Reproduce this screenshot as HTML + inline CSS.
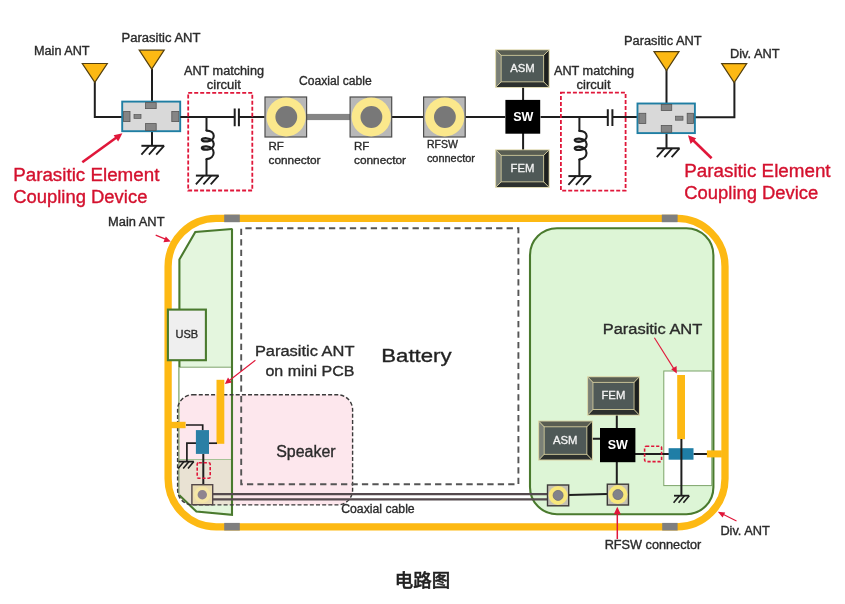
<!DOCTYPE html>
<html lang="zh">
<head>
<meta charset="utf-8">
<title>电路图</title>
<style>
html,body{margin:0;padding:0;background:#fff;}
body{width:845px;height:604px;overflow:hidden;position:relative;font-family:"Liberation Sans","Noto Sans CJK SC",sans-serif;}
svg{position:absolute;left:0;top:0;display:block;will-change:transform;}
svg text{font-family:"Liberation Sans","Noto Sans CJK SC",sans-serif;fill:#2b2b2b;stroke:#2b2b2b;stroke-width:.35px;}
.w{stroke:#1e1e1e;stroke-width:2;fill:none;}
.lbl{font-size:12px;}
.red{fill:#d4112e;stroke:#d4112e !important;stroke-width:.35px !important;}
.caption{position:absolute;left:0;top:568.3px;width:845px;text-align:center;font-size:18.5px;line-height:26px;color:#222;font-weight:500;-webkit-text-stroke:.45px #222;will-change:transform;font-family:"Liberation Sans","Noto Sans CJK SC",sans-serif;}
</style>
</head>
<body>
<svg width="845" height="604" viewBox="0 0 845 604">
<defs>
  <!-- antenna triangle: apex at 0,0 pointing down -->
  <g id="ant">
    <path d="M-12.5,-19.2 L12.5,-19.2 L0,-0.3 Z" fill="#fdb913" stroke="#54400f" stroke-width="1.2" stroke-linejoin="miter"/>
  </g>
  <!-- ground: origin at centre of bar -->
  <g id="gnd">
    <path d="M-11.4,0 H11.4" stroke="#1e1e1e" stroke-width="2" fill="none"/>
    <path d="M-3.6,0 L-11.4,8.8 M3.9,0 L-3.9,8.8 M11.2,0 L3.4,8.8" stroke="#1e1e1e" stroke-width="1.8" fill="none"/>
  </g>
  <g id="gnds">
    <path d="M-7.6,0 H7.6" stroke="#1e1e1e" stroke-width="1.8" fill="none"/>
    <path d="M-2.2,0 L-8,7 M2.8,0 L-3,7 M7.6,0 L1.8,7" stroke="#1e1e1e" stroke-width="1.6" fill="none"/>
  </g>
  <!-- big RF connector centred at 0,0 -->
  <g id="rfc">
    <rect x="-20.8" y="-20" width="41.6" height="40" fill="#b8b8b8" stroke="#4d4d4d" stroke-width="1.2"/>
    <circle cx="0.3" cy="0" r="19.6" fill="#fbe88c"/>
    <circle cx="0.5" cy="0" r="10.9" fill="#787878"/>
  </g>
  <!-- small connector centred at 0,0 -->
  <g id="sc">
    <rect x="-10.6" y="-10.4" width="21.2" height="20.8" fill="#c4c1b4" stroke="#3d3a3a" stroke-width="1.4"/>
    <circle cx="0" cy="0" r="9.5" fill="#f8e87c"/>
    <circle cx="0" cy="0" r="5" fill="#82828a" stroke="#6f6f78" stroke-width=".8"/>
  </g>
  <g id="sc2">
    <rect x="-10.4" y="-10" width="20.8" height="20" fill="#eadcb0" stroke="#54484a" stroke-width="1.4"/>
    <circle cx="0" cy="0" r="8.2" fill="#f6e7a6"/>
    <circle cx="0" cy="0" r="4.7" fill="#8f858f"/>
  </g>
  <!-- chip 55 x 38, origin top-left -->
  <g id="chip">
    <rect x="0" y="0" width="54.4" height="38.4" fill="#d8d1a2"/>
    <path d="M0.9,0.9 L53.5,0.9 L48.2,6.2 L6.2,6.2 Z" fill="#595d52"/>
    <path d="M0.9,0.9 L6.2,6.2 L6.2,32.2 L0.9,37.5 Z" fill="#7b8077"/>
    <path d="M53.5,0.9 L53.5,37.5 L48.2,32.2 L48.2,6.2 Z" fill="#1d201f"/>
    <path d="M0.9,37.5 L6.2,32.2 L48.2,32.2 L53.5,37.5 Z" fill="#2c302e"/>
    <path d="M0.9,0.9 L6.2,6.2 M53.5,0.9 L48.2,6.2 M0.9,37.5 L6.2,32.2 M53.5,37.5 L48.2,32.2" stroke="#d8d1a2" stroke-width=".9" fill="none"/>
    <rect x="5.5" y="5.5" width="43.4" height="27.4" fill="#cfc89a"/>
    <rect x="6.4" y="6.4" width="41.6" height="25.6" fill="#4f5957"/>
  </g>
  <!-- coupling device origin top-left 58 x 30 -->
  <g id="dev">
    <rect x="0" y="0" width="58" height="29.6" fill="#d9d9d9" stroke="#1f7ea3" stroke-width="1.9"/>
    <rect x="1.4" y="9.8" width="6.4" height="10.2" fill="#858585" stroke="#555" stroke-width=".8"/>
    <rect x="49.6" y="9.8" width="7" height="10.2" fill="#858585" stroke="#555" stroke-width=".8"/>
    <rect x="23.4" y="1" width="10.6" height="6" fill="#858585" stroke="#555" stroke-width=".8"/>
    <rect x="23.4" y="22" width="10.6" height="6.8" fill="#858585" stroke="#555" stroke-width=".8"/>
  </g>
  <!-- inductor coil, origin at top of coil on vertical axis; height 24 -->
  <g id="coil">
    <path d="M0,0 C9.5,0 9.5,9.2 1,9.8 C-6.5,10.3 -6.5,6.6 0,7 C9.5,7.6 9.5,16.6 1,17.2 C-6.5,17.7 -6.5,14 0,14.4 C9.5,15 9.5,25 0,26" fill="none" stroke="#1e1e1e" stroke-width="2.1" stroke-linecap="round"/>
  </g>
</defs>

<rect x="0" y="0" width="845" height="604" fill="#ffffff"/>

<!-- ================= TOP CIRCUIT ================= -->
<path class="w" d="M94.8,82 V117 H122"/>
<path class="w" d="M152,69 V102"/>
<path class="w" d="M152,131 V145.8"/>
<use href="#gnd" x="152.8" y="145.8"/>
<use href="#ant" x="94.8" y="82.7"/>
<use href="#ant" x="151.7" y="69.4"/>
<use href="#dev" x="122.2" y="101.6"/>
<rect x="134" y="114.6" width="7" height="3.8" fill="#858585" stroke="#555" stroke-width=".7"/>

<path class="w" d="M180.3,117 H234.7"/>
<path class="w" d="M238.9,117 H264.5"/>
<path class="w" d="M234.7,108.5 V126.2 M238.9,108.5 V126.2"/>
<path class="w" d="M206.5,117 V131"/>
<g transform="translate(206.5,130.6) scale(1,1.1)"><use href="#coil"/></g>
<path class="w" d="M206.5,158.8 V175.6"/>
<use href="#gnd" x="207.3" y="175.6"/>
<rect x="188.2" y="92.8" width="64.1" height="97.7" fill="none" stroke="#e0173a" stroke-width="1.8" stroke-dasharray="4,2"/>

<!-- coax -->
<rect x="306" y="113.9" width="44" height="6.2" fill="#858585"/>
<path class="w" d="M392,117 H423.2 M465.5,117 H505.2 M540.6,117 H607.8 M612.4,117 H637.5"/>
<use href="#rfc" x="285.8" y="117"/>
<use href="#rfc" x="370.9" y="117"/>
<use href="#rfc" x="444.4" y="117"/>

<!-- SW / ASM / FEM -->
<path class="w" d="M523.1,87 V101 M523.1,133 V150"/>
<use href="#chip" x="495.2" y="49.4"/>
<use href="#chip" x="495.2" y="149.4"/>
<rect x="505.4" y="99.9" width="34.8" height="33.8" fill="#000"/>
<text x="523.2" y="121" text-anchor="middle" style="font-size:12.5px;font-weight:bold;fill:#fff;stroke:none">SW</text>
<text x="522.5" y="72.4" text-anchor="middle" style="font-size:11.3px;fill:#f4f4f4;stroke:#f4f4f4;stroke-width:.3px">ASM</text>
<text x="522.5" y="172.4" text-anchor="middle" style="font-size:11.3px;fill:#f4f4f4;stroke:#f4f4f4;stroke-width:.3px">FEM</text>

<!-- matching 2 -->
<path class="w" d="M607.8,109.2 V126 M612.4,109.2 V126"/>
<path class="w" d="M579.4,117 V131.4"/>
<g transform="translate(579.4,130.9) scale(1,1.1)"><use href="#coil"/></g>
<path class="w" d="M579.4,159 V176.1"/>
<use href="#gnd" x="579.8" y="176.1"/>
<rect x="560.9" y="92.7" width="64.7" height="97.9" fill="none" stroke="#e0173a" stroke-width="1.8" stroke-dasharray="4,2"/>

<!-- device 2 -->
<path class="w" d="M666.5,70 V104.5 M666.5,133 V148.3"/>
<use href="#gnd" x="668.2" y="148.3"/>
<path class="w" d="M694.9,117.3 H734.4 V82"/>
<use href="#ant" x="666.5" y="70.9"/>
<use href="#ant" x="734.2" y="82.9"/>
<g transform="translate(637.5,103.5)"><g transform="translate(57.4,0) scale(-1,1)"><use href="#dev" transform="scale(0.99,1)"/></g></g>
<rect x="675.6" y="116.2" width="7.4" height="4" fill="#858585" stroke="#555" stroke-width=".7"/>

<!-- labels top -->
<text class="lbl" x="34" y="55" textLength="55.6" lengthAdjust="spacingAndGlyphs">Main ANT</text>
<text class="lbl" x="121.5" y="41.5" textLength="79" lengthAdjust="spacingAndGlyphs">Parasitic ANT</text>
<text class="lbl" x="184" y="74.5" textLength="80" lengthAdjust="spacingAndGlyphs">ANT matching</text>
<text class="lbl" x="206.8" y="88.6" textLength="34" lengthAdjust="spacingAndGlyphs">circuit</text>
<text class="lbl" x="299" y="84.6" textLength="72.7" lengthAdjust="spacingAndGlyphs">Coaxial cable</text>
<text class="lbl" x="268.5" y="150" style="font-size:11.5px">RF</text>
<text class="lbl" x="268.5" y="164.1" textLength="52" lengthAdjust="spacingAndGlyphs" style="font-size:11.5px">connector</text>
<text class="lbl" x="354" y="150" style="font-size:11.5px">RF</text>
<text class="lbl" x="354" y="164.1" textLength="52" lengthAdjust="spacingAndGlyphs" style="font-size:11.5px">connector</text>
<text class="lbl" x="426.9" y="148.4" style="font-size:10.5px">RFSW</text>
<text class="lbl" x="426.9" y="161.8" textLength="48" lengthAdjust="spacingAndGlyphs" style="font-size:10.5px">connector</text>
<text class="lbl" x="554" y="74.5" textLength="80" lengthAdjust="spacingAndGlyphs">ANT matching</text>
<text class="lbl" x="576.6" y="88.8" textLength="34" lengthAdjust="spacingAndGlyphs">circuit</text>
<text class="lbl" x="624" y="44.5" textLength="77.6" lengthAdjust="spacingAndGlyphs">Parasitic ANT</text>
<text class="lbl" x="730" y="57.7" textLength="49.6" lengthAdjust="spacingAndGlyphs">Div. ANT</text>

<!-- red callouts -->
<text class="red" x="13.2" y="180.9" style="font-size:18px" textLength="146.2" lengthAdjust="spacingAndGlyphs">Parasitic Element</text>
<text class="red" x="13.2" y="203.3" style="font-size:18px" textLength="134.2" lengthAdjust="spacingAndGlyphs">Coupling Device</text>
<text class="red" x="684.3" y="176.8" style="font-size:18px" textLength="146.3" lengthAdjust="spacingAndGlyphs">Parasitic Element</text>
<text class="red" x="684.3" y="199.3" style="font-size:18px" textLength="134" lengthAdjust="spacingAndGlyphs">Coupling Device</text>
<path d="M82.3,162.2 L117.5,136.7" stroke="#e0173a" stroke-width="2.6" fill="none"/>
<path d="M122.4,133.2 L113.6,135.2 L118.2,141.6 Z" fill="#e0173a"/>
<path d="M711.6,158.2 L692.6,139.8" stroke="#e0173a" stroke-width="2.6" fill="none"/>
<path d="M688,135.3 L690.6,144 L696.2,138.2 Z" fill="#e0173a"/>

<!-- ================= PHONE ================= -->
<!-- left PCB -->
<path d="M232,229 L195.3,232 L179.4,259.5 L179.4,367.2 L232,367.2 Z" fill="#e4f6de"/>
<rect x="179.4" y="367.2" width="52.6" height="93" fill="#ffffff"/>
<!-- speaker -->
<rect x="177.6" y="394.8" width="175" height="110.1" rx="15" ry="15" fill="#fde7ed"/>
<!-- beige -->
<path d="M179.4,459.5 H232 V505 H190 L179.4,495 Z" fill="#e9e2d3"/>
<path d="M179.4,495.3 L196.4,511.6 L232,514.9 L232,505 L190,505 Z" fill="#e4f6de"/>
<path d="M179.4,459.5 H232" stroke="#a5c296" stroke-width="1" fill="none"/>
<path d="M179.4,367.2 H232" stroke="#7da36a" stroke-width="1" fill="none"/>
<path d="M178.9,367.2 V495.3" stroke="#6d9958" stroke-width="1.1" fill="none"/>
<path d="M232,229 L195.3,232 L179.4,259.5 L179.4,367.2" fill="none" stroke="#4a7a2e" stroke-width="2.1"/>
<path d="M232,228.5 V514.9 L196.4,511.6 L179.4,495.3" fill="none" stroke="#4a7a2e" stroke-width="2.1"/>
<rect x="177.6" y="394.8" width="175" height="110.1" rx="15" ry="15" fill="none" stroke="#3a3a3a" stroke-width="1.4" stroke-dasharray="4,2.16"/>

<!-- battery -->
<rect x="241.2" y="228.3" width="277.2" height="256" fill="none" stroke="#555" stroke-width="1.9" stroke-dasharray="6.3,4.15" stroke-dashoffset="6.3"/>
<text x="381.3" y="361.5" style="font-size:18px;fill:#1f1f1f" textLength="70.3" lengthAdjust="spacingAndGlyphs">Battery</text>
<text x="276.2" y="457.2" style="font-size:16px" textLength="59.4" lengthAdjust="spacingAndGlyphs">Speaker</text>

<!-- right PCB -->
<rect x="530" y="228.2" width="183.4" height="286" rx="27" ry="27" fill="#ddf5d6" stroke="#4a7a2e" stroke-width="2.1"/>
<rect x="663.8" y="371" width="48" height="114.6" fill="#ffffff" stroke="#7da36a" stroke-width="1"/>

<!-- coax lines -->
<path d="M212.7,494.1 H547.3 M212.7,499.3 H547.3" stroke="#544a4e" stroke-width="2.2" fill="none"/>
<path d="M568.6,494.9 L607.2,493.9" class="w"/>

<!-- frame -->
<rect x="168.1" y="218.4" width="556.9" height="308.4" rx="48" ry="48" fill="none" stroke="#fdb913" stroke-width="7.3"/>
<rect x="224.2" y="214.6" width="15.6" height="7.6" fill="#7f7f7f"/>
<rect x="661.8" y="214.6" width="15.8" height="7.6" fill="#7f7f7f"/>
<rect x="224.2" y="522.9" width="15.6" height="7.6" fill="#7f7f7f"/>
<rect x="662.2" y="522.9" width="15.4" height="7.6" fill="#7f7f7f"/>

<!-- USB -->
<rect x="167.9" y="309.6" width="38" height="50.6" fill="#efefef" stroke="#4a7a2e" stroke-width="2.1"/>
<text x="186.9" y="338.4" text-anchor="middle" style="font-size:11px">USB</text>

<!-- left detail -->
<rect x="216.5" y="379.8" width="7.8" height="64" fill="#fdb913"/>
<rect x="171" y="421.8" width="14.6" height="6.4" fill="#fdb913"/>
<path d="M186,425 H202.7 V430.5" class="w" style="stroke-width:1.7"/>
<path d="M196,443.2 H186.9 V461.5" class="w" style="stroke-width:1.7"/>
<path d="M209,443.2 H217" class="w" style="stroke-width:1.7"/>
<use href="#gnds" x="186.2" y="461.6"/>
<path d="M203.3,453.9 V485" stroke="#1e1e1e" stroke-width="2" fill="none"/>
<rect x="195.9" y="430.1" width="13.1" height="23.8" fill="#2a7fa5"/>
<rect x="197.2" y="462.7" width="13" height="15.6" fill="none" stroke="#e0173a" stroke-width="1.6" stroke-dasharray="3.2,1.8" rx="1.5"/>
<use href="#sc2" x="202.3" y="494.7"/>

<!-- right detail -->
<path class="w" d="M616.8,414 V428 M591,438.8 H600 M635,453.9 H669 M693.5,453.9 H707 M616.8,462 V485"/>
<g transform="translate(587.2,376.3) scale(0.967,1.023)"><use href="#chip"/></g>
<g transform="translate(538.2,420.6) scale(1.004,1.04)"><use href="#chip"/></g>
<rect x="600" y="428" width="35.4" height="34.2" fill="#000"/>
<text x="617.8" y="449" text-anchor="middle" style="font-size:12.5px;font-weight:bold;fill:#fff;stroke:none">SW</text>
<text x="613.4" y="399.1" text-anchor="middle" style="font-size:11.3px;fill:#f4f4f4;stroke:#f4f4f4;stroke-width:.3px">FEM</text>
<text x="565.2" y="444" text-anchor="middle" style="font-size:11.3px;fill:#f4f4f4;stroke:#f4f4f4;stroke-width:.3px">ASM</text>
<rect x="644.6" y="446.3" width="17" height="15.3" fill="none" stroke="#e0173a" stroke-width="1.6" stroke-dasharray="3.2,1.8" rx="1.5"/>
<rect x="677.2" y="375" width="7.8" height="64.2" fill="#fdb913"/>
<rect x="668.6" y="448.2" width="24.9" height="11.5" fill="#1f7ea6"/>
<rect x="706.9" y="450.4" width="15" height="7" fill="#fdb913"/>
<path class="w" d="M681.4,439 V495.8"/>
<use href="#gnds" x="681.6" y="495.7"/>
<use href="#sc" x="558.1" y="495.4"/>
<use href="#sc" x="617.9" y="494.6"/>

<!-- labels bottom -->
<text class="lbl" x="108" y="226.3" textLength="56.5" lengthAdjust="spacingAndGlyphs">Main ANT</text>
<path d="M155.7,235.1 L166,239.4" stroke="#e0173a" stroke-width="1.2" fill="none"/>
<path d="M170.7,241.4 L163.4,242.2 L165.8,236.4 Z" fill="#e0173a"/>
<text x="254.9" y="355.7" style="font-size:15.5px" textLength="99.6" lengthAdjust="spacingAndGlyphs">Parasitic ANT</text>
<text x="265.4" y="375.8" style="font-size:15.5px" textLength="89.1" lengthAdjust="spacingAndGlyphs">on mini PCB</text>
<path d="M255.4,360.2 L229,380.8" stroke="#e0173a" stroke-width="1.1" fill="none"/>
<path d="M224.8,384 L228,377.4 L231.8,382.4 Z" fill="#e0173a"/>
<text x="602.7" y="334" style="font-size:15.5px" textLength="99.6" lengthAdjust="spacingAndGlyphs">Parasitic ANT</text>
<path d="M654.4,337.8 L674.4,369.6" stroke="#e0173a" stroke-width="1.1" fill="none"/>
<path d="M676.8,373.6 L671.2,369.2 L676.6,365.9 Z" fill="#e0173a"/>
<text class="lbl" x="341.2" y="513.3" textLength="73.5" lengthAdjust="spacingAndGlyphs">Coaxial cable</text>
<text class="lbl" x="720.4" y="534.9" textLength="49.4" lengthAdjust="spacingAndGlyphs">Div. ANT</text>
<path d="M736.5,521 L722,513.8" stroke="#e0173a" stroke-width="1.2" fill="none"/>
<path d="M717.8,511.8 L725.2,512.4 L722.6,517.6 Z" fill="#e0173a"/>
<text class="lbl" x="604.7" y="548.8" textLength="96.6" lengthAdjust="spacingAndGlyphs">RFSW connector</text>
<path d="M617.3,539 V513" stroke="#e0173a" stroke-width="1.5" fill="none"/>
<path d="M617.3,506.8 L613.8,514.2 L620.8,514.2 Z" fill="#e0173a"/>
</svg>
<div class="caption">电路图</div>
</body>
</html>
